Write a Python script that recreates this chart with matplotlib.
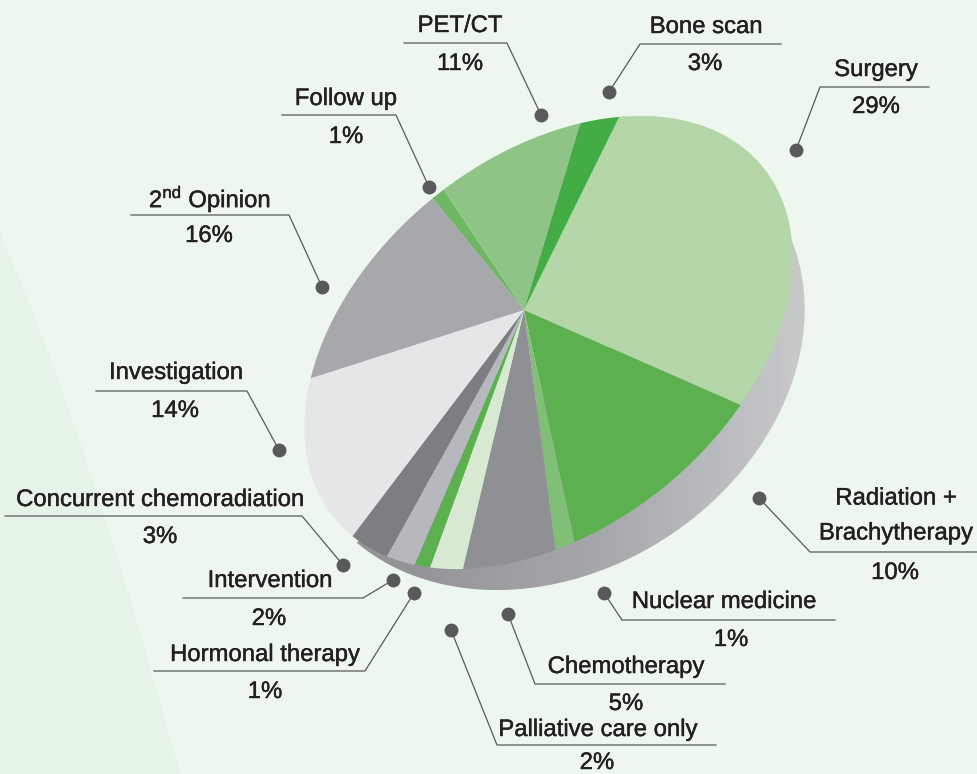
import numpy as np
import matplotlib
matplotlib.use("Agg")
import matplotlib.pyplot as plt
import matplotlib.patheffects as pe
from matplotlib.path import Path
from matplotlib.patches import PathPatch

plt.rcParams['font.family'] = ['Liberation Sans', 'DejaVu Sans']
plt.rcParams['mathtext.fontset'] = 'custom'
plt.rcParams['mathtext.rm'] = 'Liberation Sans'

# clockwise from Surgery
values = [29, 10, 1, 5, 2, 1, 2, 3, 14, 16, 1, 11, 3]
colors = ['#b5d6a9', '#5cb050', '#80c076', '#8f9094', '#d8e9d3', '#5cb050', '#b7b8bd',
          '#7d7e82', '#e5e6e8', '#a7a8ac', '#6fb763', '#8fc487', '#44ac44']
pct_labels = ['%d%%' % v for v in values]
names = ['Surgery', 'Radiation +\nBrachytherapy', 'Nuclear medicine', 'Chemotherapy',
         'Palliative care only', 'Hormonal therapy', 'Intervention',
         'Concurrent chemoradiation', 'Investigation', r'2$^{\mathrm{nd}}$ Opinion',
         'Follow up', 'PET/CT', 'Bone scan']

# layout in pixels: name centre, percent centre, leader line (far end, elbow, dot)
name_xy = [(876, 70), (896, 516), (724, 602), (626, 667), (598, 730), (265, 655), (270, 581),
           (160, 500), (176, 373), (210, 199), (346, 99), (460, 26), (706, 27)]
pct_xy = [(876, 107), (895, 573), (731, 640), (626, 704), (597, 763), (265, 692), (269, 619),
          (160, 537), (175, 411), (209, 236), (346, 137), (460, 64), (705, 64)]
line_end = [(929, 87), (977, 552), (835, 620), (725, 684), (716, 745), (154, 671), (183, 598),
            (5, 516), (96, 391), (131, 215), (282, 115), (404, 43), (781, 44)]
line_elbow = [(820, 87), (810, 552), (622, 620), (535, 684), (497, 745), (365, 671), (363, 598),
              (302, 516), (247, 391), (289, 215), (396, 115), (507, 43), (640, 44)]
dots = [(796, 150), (759, 498), (604, 593), (508, 614), (451, 630), (414, 593), (393, 580),
        (343, 565), (279, 450), (322, 287), (429, 187), (541, 115), (609, 92)]

# tilted disc: ellipse of the top face and the point the centre of the pie lands on
top_c, top_a, top_b, top_rot = (548.5, 342.5), 277, 185, 39.4
apex = (524, 310)
start_deg = -34.8
rim_c, rim_a, rim_b, rim_rot = (550, 358), 270, 214, 33
# the side only shows on the far side of this line
rim_cut = ((785, 212), (360, 538))


def ellipse_axes(rot):
    t = np.radians(rot)
    return np.array([np.cos(t), -np.sin(t)]), np.array([np.sin(t), np.cos(t)])


def disc_to_pixels(xy):
    # perspective view of a flat circle: boost the centre to apex, then stretch to the ellipse
    eu, ev = ellipse_axes(top_rot)
    rel = np.array(apex) - np.array(top_c)
    p = np.array([rel @ eu / top_a, rel @ ev / top_b])
    g = 1 / np.sqrt(1 - p @ p)
    pd = xy @ p
    w = g * (1 + pd)
    q = xy + ((g - 1) / (p @ p) * pd + g)[:, None] * p
    q = q / w[:, None]
    return np.array(top_c) + top_a * q[:, [0]] * eu + top_b * q[:, [1]] * ev


fig = plt.figure(figsize=(9.77, 7.74), dpi=100)
ax = fig.add_axes([0, 0, 1, 1])

wedges, _ = ax.pie(values, colors=colors, startangle=start_deg, counterclock=True)
slices = []
for w in wedges:
    th = np.radians(np.linspace(w.theta1, w.theta2, 80))
    slices.append(np.vstack([[0, 0], np.c_[np.cos(th), np.sin(th)]]))
    w.remove()

ax.set_aspect('auto')
ax.axis('off')
fig.patch.set_facecolor('#edf7ef')

# pale band on the left
band = PathPatch(Path([(0, 233), (85, 425), (180, 774), (0, 774), (0, 233)],
                      [Path.MOVETO, Path.CURVE3, Path.CURVE3, Path.LINETO, Path.CLOSEPOLY]),
                 fc='#e6f3e7', ec='none', zorder=0)
ax.add_patch(band)

# side of the disc, dark at the lower left, light at the right
th = np.linspace(-np.pi / 2, 3 * np.pi / 2, 600)
eu, ev = ellipse_axes(rim_rot)
rim_pts = np.array(rim_c) + rim_a * np.cos(th)[:, None] * eu + rim_b * np.sin(th)[:, None] * ev
a, b = np.array(rim_cut[0]), np.array(rim_cut[1])
d = b - a
side = d[0] * (rim_pts[:, 1] - a[1]) - d[1] * (rim_pts[:, 0] - a[0])
keep = rim_pts[side < 0]
cm_rim = matplotlib.colors.LinearSegmentedColormap.from_list('rim', ['#939398', '#a6a7ab', '#c6c7c9'])
xg = np.linspace(0, 977, 256)
im2 = ax.imshow(np.clip((xg - 400) / 390, 0, 1)[None, :], extent=(0, 977, 774, 0), cmap=cm_rim,
                aspect='auto', zorder=1)
rim = PathPatch(Path(np.vstack([keep, keep[:1]])), transform=ax.transData, fc='none', ec='none')
ax.add_patch(rim)
im2.set_clip_path(rim)
ax.set_xlim(0, 977)
ax.set_ylim(774, 0)

for pts, c in zip(slices, colors):
    px = disc_to_pixels(pts)
    ax.fill(px[:, 0], px[:, 1], color=c, lw=0, zorder=2)

line_col = '#58595b'
text_col = '#231f20'
stroke = [pe.withStroke(linewidth=0.3, foreground=text_col)]
for i in range(len(values)):
    xs = [line_end[i][0], line_elbow[i][0], dots[i][0]]
    ys = [line_end[i][1], line_elbow[i][1], dots[i][1]]
    ax.plot(xs, ys, color=line_col, lw=0.9, zorder=3)
    ax.plot(dots[i][0], dots[i][1], 'o', color=line_col, ms=10, mew=0, zorder=4)
    ax.text(name_xy[i][0], name_xy[i][1], names[i], ha='center', va='center', fontsize=17.2,
            color=text_col, linespacing=1.76, zorder=5, path_effects=stroke)
    ax.text(pct_xy[i][0], pct_xy[i][1], pct_labels[i], ha='center', va='center',
            fontsize=17.2, color=text_col, zorder=5, path_effects=stroke)

fig.savefig('out.png', dpi=100, facecolor=fig.get_facecolor())
